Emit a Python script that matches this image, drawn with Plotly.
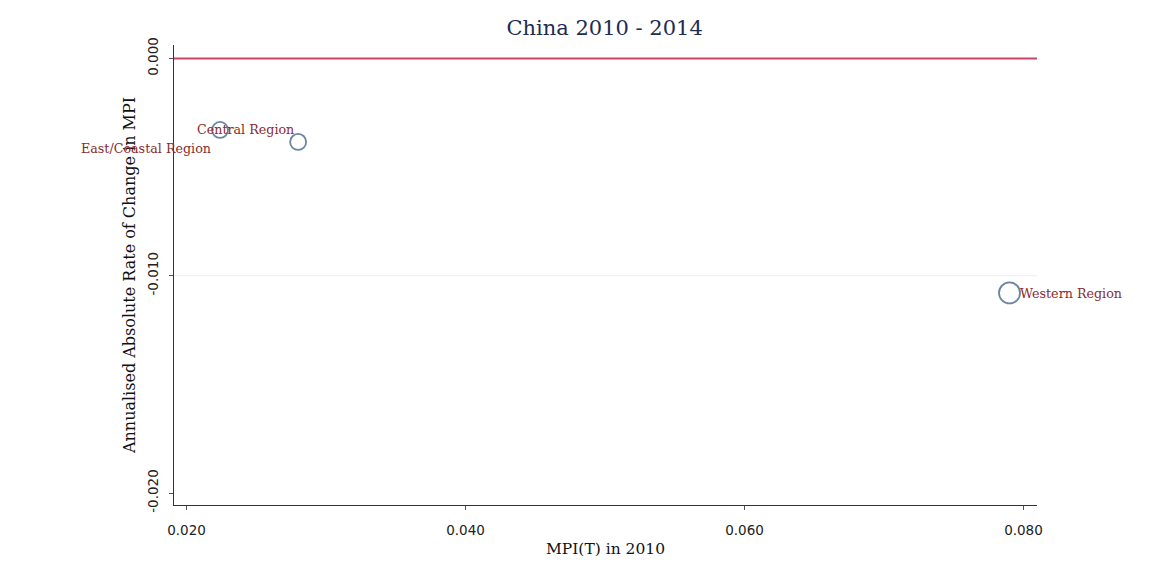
import plotly.graph_objects as go

regions = ["Central Region", "East/Coastal Region", "Western Region"]
mpi_2010 = [0.0224, 0.0280, 0.0790]
rate_change = [-0.00329, -0.00384, -0.01079]
marker_sizes = [16, 16, 21]
x_ticks = [0.02, 0.04, 0.06, 0.08]
x_tick_labels = ["0.020", "0.040", "0.060", "0.080"]
y_ticks = [0.0, -0.01, -0.02]
y_tick_labels = ["0.000", "-0.010", "-0.020"]

FONT = "DejaVu Serif"
TICKFONT = "DejaVu Sans"
label_color = "#8a2b2b"

fig = go.Figure()
fig.add_trace(go.Scatter(
    x=mpi_2010, y=rate_change, mode="markers",
    marker=dict(size=marker_sizes, color="rgba(0,0,0,0)",
                line=dict(color="#2f5478", width=1.8)),
    hoverinfo="text", text=regions, showlegend=False,
))

# zero reference line
fig.add_shape(type="line", xref="paper", x0=0, x1=1, yref="y", y0=0, y1=0,
              line=dict(color="#cc4466", width=2), layer="above")
# gridline at -0.010
fig.add_shape(type="line", xref="paper", x0=0, x1=1, yref="y", y0=-0.01, y1=-0.01,
              line=dict(color="#e8f0f2", width=1), layer="below")

# marker labels
label_pos = [
    dict(xanchor="center", xshift=25, yshift=0),
    dict(xanchor="right", xshift=-85, yshift=-7),
    dict(xanchor="left", xshift=8, yshift=-1),
]
for name, xv, yv, p in zip(regions, mpi_2010, rate_change, label_pos):
    fig.add_annotation(x=xv, y=yv, text=name, showarrow=False,
                       xanchor=p["xanchor"], yanchor="middle",
                       xshift=p["xshift"], yshift=p["yshift"],
                       font=dict(family=FONT, size=12.7, color=label_color))

fig.update_layout(
    width=1143, height=567,
    paper_bgcolor="white", plot_bgcolor="white",
    margin=dict(l=166, r=114, t=37, b=70),
    title=dict(text="China 2010 - 2014", x=0.522, xanchor="center", y=0.966,
               yanchor="middle", font=dict(family=FONT, size=21, color="#1e2b52")),
    font=dict(family=FONT, size=12, color="#111111"),
)
fig.update_xaxes(
    range=[0.0191, 0.08097], tickvals=x_ticks, ticktext=x_tick_labels,
    showgrid=False, zeroline=False, showline=True, linecolor="#333333", linewidth=1.2,
    ticks="outside", ticklen=4, tickcolor="#555555", automargin=False,
    ticklabelstandoff=9,
    title=dict(text="MPI(T) in 2010", font=dict(family=FONT, size=15.5), standoff=5),
    tickfont=dict(family=TICKFONT, size=13.5, color="#222222"),
)
fig.update_yaxes(
    range=[-0.02055, 0.00062], tickvals=y_ticks, ticktext=y_tick_labels,
    tickangle=-90, automargin=False, ticklabelstandoff=6,
    showgrid=False, zeroline=False, showline=True, linecolor="#333333", linewidth=1.2,
    ticks="outside", ticklen=4, tickcolor="#555555",
    title=dict(text="Annualised Absolute Rate of Change in MPI",
               font=dict(family=FONT, size=16), standoff=4),
    tickfont=dict(family=TICKFONT, size=13.5, color="#222222"),
)

fig.write_html("out.html")
